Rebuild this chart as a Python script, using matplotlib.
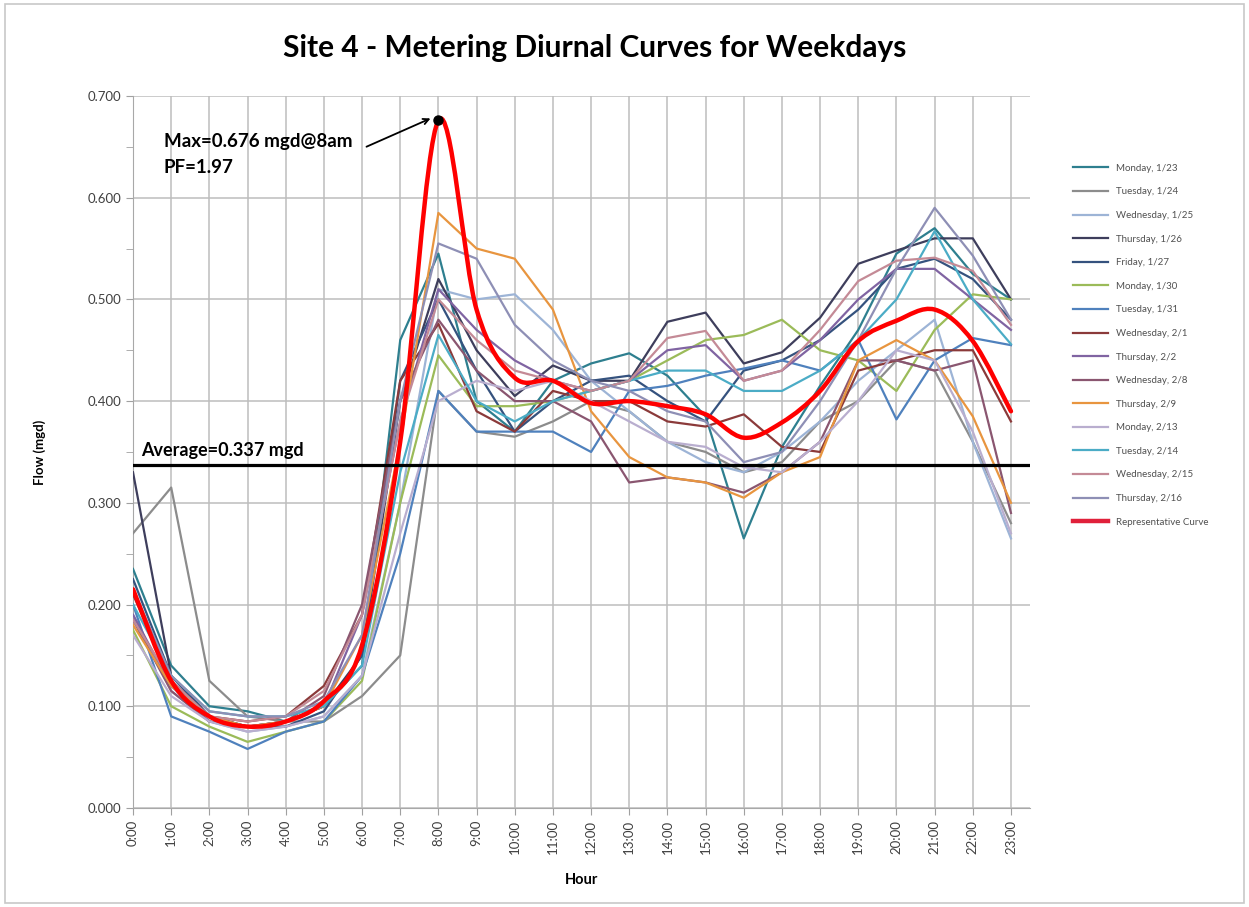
"""Site 4 metering diurnal curves (weekdays)."""
import numpy as np
import matplotlib
matplotlib.use('Agg')
import matplotlib.pyplot as plt
from matplotlib.path import Path
from matplotlib.patches import PathPatch, Rectangle
from matplotlib.lines import Line2D

plt.rcParams['font.family'] = ['Lato', 'DejaVu Sans']

hours = [f"{h}:00" for h in range(24)]

# 各日流量 (mgd)
mon_0123 = [0.235, 0.140, 0.100, 0.095, 0.085, 0.100, 0.140, 0.460, 0.545, 0.400, 0.370, 0.420,
            0.437, 0.447, 0.425, 0.385, 0.265, 0.355, 0.415, 0.470, 0.545, 0.570, 0.525, 0.500]
tue_0124 = [0.270, 0.315, 0.125, 0.090, 0.085, 0.085, 0.110, 0.150, 0.410, 0.370, 0.365, 0.380,
            0.400, 0.390, 0.360, 0.350, 0.330, 0.340, 0.380, 0.400, 0.440, 0.430, 0.360, 0.280]
wed_0125 = [0.190, 0.115, 0.085, 0.075, 0.080, 0.090, 0.130, 0.300, 0.510, 0.500, 0.505, 0.470,
            0.420, 0.390, 0.360, 0.340, 0.330, 0.350, 0.380, 0.420, 0.450, 0.480, 0.360, 0.265]
thu_0126 = [0.330, 0.130, 0.090, 0.080, 0.085, 0.100, 0.150, 0.400, 0.520, 0.450, 0.405, 0.435,
            0.420, 0.420, 0.478, 0.487, 0.437, 0.448, 0.482, 0.535, 0.548, 0.560, 0.560, 0.500]
fri_0127 = [0.225, 0.130, 0.090, 0.080, 0.080, 0.095, 0.150, 0.420, 0.500, 0.430, 0.370, 0.400,
            0.420, 0.425, 0.400, 0.380, 0.430, 0.440, 0.460, 0.490, 0.530, 0.540, 0.520, 0.480]
mon_0130 = [0.175, 0.100, 0.080, 0.065, 0.075, 0.085, 0.125, 0.300, 0.445, 0.395, 0.395, 0.400,
            0.410, 0.420, 0.440, 0.460, 0.465, 0.480, 0.450, 0.440, 0.410, 0.470, 0.505, 0.500]
tue_0131 = [0.200, 0.090, 0.075, 0.058, 0.075, 0.085, 0.130, 0.250, 0.410, 0.370, 0.370, 0.370,
            0.350, 0.410, 0.415, 0.425, 0.432, 0.440, 0.430, 0.460, 0.382, 0.440, 0.462, 0.455]
wed_0201 = [0.210, 0.125, 0.090, 0.085, 0.090, 0.120, 0.190, 0.420, 0.476, 0.390, 0.370, 0.410,
            0.400, 0.400, 0.380, 0.375, 0.387, 0.355, 0.350, 0.430, 0.440, 0.450, 0.450, 0.380]
thu_0202 = [0.190, 0.120, 0.085, 0.080, 0.085, 0.100, 0.190, 0.380, 0.510, 0.470, 0.440, 0.420,
            0.410, 0.420, 0.450, 0.455, 0.420, 0.430, 0.460, 0.500, 0.530, 0.530, 0.500, 0.470]
wed_0208 = [0.185, 0.115, 0.085, 0.080, 0.085, 0.110, 0.200, 0.400, 0.480, 0.430, 0.400, 0.400,
            0.380, 0.320, 0.325, 0.320, 0.310, 0.330, 0.360, 0.440, 0.440, 0.430, 0.440, 0.290]
thu_0209 = [0.180, 0.120, 0.090, 0.080, 0.085, 0.100, 0.170, 0.360, 0.585, 0.550, 0.540, 0.490,
            0.390, 0.345, 0.325, 0.320, 0.305, 0.330, 0.345, 0.440, 0.460, 0.440, 0.385, 0.300]
mon_0213 = [0.170, 0.110, 0.085, 0.075, 0.080, 0.090, 0.130, 0.270, 0.400, 0.420, 0.410, 0.420,
            0.400, 0.380, 0.360, 0.355, 0.335, 0.330, 0.360, 0.400, 0.450, 0.440, 0.370, 0.270]
tue_0214 = [0.200, 0.130, 0.095, 0.090, 0.090, 0.100, 0.140, 0.330, 0.465, 0.400, 0.380, 0.400,
            0.410, 0.420, 0.430, 0.430, 0.410, 0.410, 0.430, 0.460, 0.500, 0.567, 0.500, 0.456]
wed_0215 = [0.185, 0.125, 0.090, 0.085, 0.090, 0.115, 0.190, 0.380, 0.500, 0.460, 0.430, 0.420,
            0.410, 0.420, 0.462, 0.469, 0.420, 0.430, 0.470, 0.518, 0.538, 0.541, 0.528, 0.475]
thu_0216 = [0.215, 0.130, 0.095, 0.090, 0.090, 0.105, 0.170, 0.400, 0.555, 0.540, 0.475, 0.440,
            0.420, 0.410, 0.390, 0.380, 0.340, 0.350, 0.400, 0.460, 0.530, 0.590, 0.543, 0.480]
representative = [0.215, 0.125, 0.090, 0.080, 0.085, 0.105, 0.160, 0.360, 0.676, 0.490, 0.423, 0.420,
                  0.398, 0.400, 0.395, 0.387, 0.364, 0.379, 0.410, 0.459, 0.479, 0.490, 0.459, 0.390]

day_labels = ["Monday, 1/23", "Tuesday, 1/24", "Wednesday, 1/25", "Thursday, 1/26", "Friday, 1/27",
              "Monday, 1/30", "Tuesday, 1/31", "Wednesday, 2/1", "Thursday, 2/2", "Wednesday, 2/8",
              "Thursday, 2/9", "Monday, 2/13", "Tuesday, 2/14", "Wednesday, 2/15", "Thursday, 2/16"]
day_series = [mon_0123, tue_0124, wed_0125, thu_0126, fri_0127, mon_0130, tue_0131, wed_0201,
              thu_0202, wed_0208, thu_0209, mon_0213, tue_0214, wed_0215, thu_0216]
day_colors = ['#2E7F8F', '#8C8C8C', '#9DB4D6', '#3E3E5C', '#35527E', '#9BBB59', '#4F81BD', '#8B3A3A',
              '#8064A2', '#8A5670', '#E8953F', '#B9AECF', '#4BACC6', '#C48A96', '#8E8FB5']

average = 0.337
peak_hour, peak_val = 8, 0.676

fig = plt.figure(figsize=(12.49, 9.07), dpi=100)
ax = fig.add_axes([0.1065, 0.1092, 0.7182, 0.785])

x = np.arange(24)
handles = []
for vals, lab, col in zip(day_series, day_labels, day_colors):
    h, = ax.plot(x, vals, color=col, lw=1.6, label=lab, zorder=3)
    handles.append(h)

# Excel 风格平滑曲线 (Catmull-Rom -> Bezier)
y = np.array(representative)
verts = [(x[0], y[0])]
codes = [Path.MOVETO]
n = len(x)
for i in range(n - 1):
    p0 = max(i - 1, 0)
    p3 = min(i + 2, n - 1)
    c1 = (x[i] + (x[i + 1] - x[p0]) / 6, y[i] + (y[i + 1] - y[p0]) / 6)
    c2 = (x[i + 1] - (x[p3] - x[i]) / 6, y[i + 1] - (y[p3] - y[i]) / 6)
    verts += [c1, c2, (x[i + 1], y[i + 1])]
    codes += [Path.CURVE4] * 3
ax.add_patch(PathPatch(Path(verts, codes), facecolor='none', edgecolor='#FF0000', lw=3.2,
                       zorder=5, capstyle='round', joinstyle='round'))
handles.append(Line2D([], [], color='#E0203A', lw=3.2, label='Representative Curve'))

ax.axhline(average, color='black', lw=2.3, zorder=6)
ax.text(0.2, average + 0.006, f"Average={average} mgd", fontsize=13, fontweight='bold',
        va='bottom', ha='left', zorder=7)

ax.plot(peak_hour, peak_val, 'o', color='black', ms=6.5, zorder=7)
ax.text(0.8, 0.655, "Max=0.676 mgd@8am", fontsize=13.5, fontweight='bold', va='center')
ax.text(0.8, 0.630, "PF=1.97", fontsize=13.5, fontweight='bold', va='center')
ax.annotate("", xy=(peak_hour - 0.14, peak_val + 0.003), xytext=(6.05, 0.649),
            arrowprops=dict(arrowstyle='->', color='black', lw=1.3))

ax.set_xlim(0, 23.5)
ax.set_ylim(0, 0.7)
ax.set_xticks(x)
ax.set_xticklabels(hours, rotation=90, fontsize=9.5, color='#404040')
ax.set_yticks(np.arange(0, 0.71, 0.1))
ax.set_yticklabels([f"{v:.3f}" for v in np.arange(0, 0.71, 0.1)], fontsize=9.5, color='#404040')
ax.set_yticks(np.arange(0.05, 0.7, 0.1), minor=True)
ax.tick_params(axis='y', which='both', direction='out', length=5, color='#A0A0A0')
ax.tick_params(axis='x', direction='out', length=5, color='#A0A0A0')
ax.grid(True, which='major', color='#BDBDBD', lw=1.1, zorder=0)
for s in ax.spines.values():
    s.set_color('#A8A8A8')
ax.spines['top'].set_visible(False)
ax.spines['right'].set_visible(False)

ax.set_xlabel("Hour", fontsize=10.5, fontweight='bold', labelpad=14)
ax.set_ylabel("Flow (mgd)", fontsize=9.5, fontweight='bold', labelpad=30)
fig.suptitle("Site 4 - Metering Diurnal Curves for Weekdays", x=0.476, y=0.962,
             fontsize=21.5, fontweight='bold')

fig.legend(handles=handles, loc='upper left', bbox_to_anchor=(0.852, 0.829), frameon=False,
           fontsize=7, handlelength=3.6, labelspacing=1.5, labelcolor='#505050')

fig.patches.append(Rectangle((0.004, 0.004), 0.992, 0.992, transform=fig.transFigure,
                             fill=False, edgecolor='#C8C8C8', lw=1.2))

fig.savefig("out.png", dpi=100)
